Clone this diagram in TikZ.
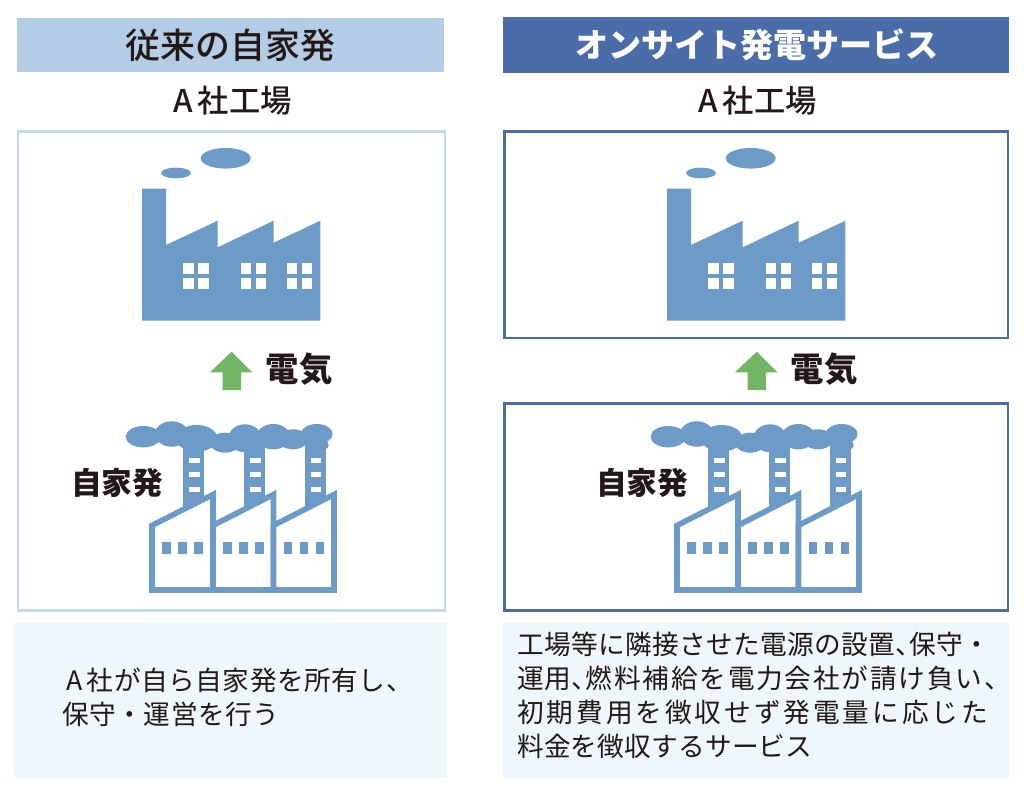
\documentclass[tikz,border=0pt]{standalone}
\usepackage{fontspec}
\usetikzlibrary{positioning}
\setmainfont{Noto Sans CJK JP}
\newfontfamily\medfont{Noto Sans CJK JP Medium}
\definecolor{inkbrown}{HTML}{231815}
\definecolor{plantblue}{HTML}{6C9BC8}
\definecolor{headlight}{HTML}{B4CDE6}
\definecolor{headdark}{HTML}{4A6CA8}
\definecolor{framelight}{HTML}{C5D9E8}
\definecolor{notebg}{HTML}{EDF7FC}
\definecolor{arrowgreen}{HTML}{72B565}
\newcommand{\halfcomma}{\makebox[0.55em][l]{、}}
\newcommand{\tracked}[2]{{\addfontfeature{LetterSpace=#1}#2}}
\tikzset{
  headbar/.style={font=\fontsize{26.2}{30}\selectfont\medfont},
  sitelabel/.style={font=\fontsize{23.5}{26}\selectfont\medfont,text=inkbrown},
  boldlabel/.style={font=\fontsize{#1}{30}\selectfont\bfseries,text=inkbrown},
  notetext/.style={font=\fontsize{20}{25.3}\selectfont,text=inkbrown,align=left,anchor=north west,inner sep=0pt},
  pics/factory/.style={code={
    \fill[plantblue] (142,188.7)--(166,188.7)--(166,245)--(217.7,220.7)--(217.7,247.3)--(273.7,220.7)
      --(273.7,242.7)--(320.3,220.7)--(320.3,320.5)--(142,320.5)--cycle;
    \fill[plantblue] (225.7,158.3) ellipse ({25} and {10.3});
    \fill[plantblue] (176,173) ellipse ({15} and {5.3});
    \foreach \wx in {183.3,240.7,286.7}
      \foreach \dx in {0,15}
        \foreach \wy in {263.3,278.3}
          \fill[white] (\wx+\dx,\wy) rectangle ++(10.5,10.5);
  }},
  pics/selfplant/.style={code={
    % smoke
    \foreach \cx/\cy/\rx/\ry in {143.3/436.7/17.7/10.7,171.7/434/16.7/12.7,196.7/438.3/20.7/13.3,225/442.7/15/10,
        245/438.3/16.7/14,273.3/436.7/16.7/12.7,293/439.3/15/10,316.7/434/16/10,316.7/445/12/6.7}
      \fill[plantblue] (\cx,\cy) ellipse ({\rx} and {\ry});
    % chimneys
    \foreach \sx in {183.3,244.3,305}{
      \fill[plantblue] (\sx,445) rectangle ++(21,65);
      \foreach \sy in {457.7,471.7,486.7}
        \fill[white] (\sx+5.8,\sy) rectangle ++(10.4,5.7);
    }
    % buildings
    \foreach \bx/\ex in {152/213,213/273.5,273.5/334}
      \draw[plantblue,line width=4.2pt,fill=white,miter limit=10]
        (\bx,590)--(\bx,525.4)--(\ex,494.5)--(\ex,590)--cycle;
    \foreach \gx in {162,223.3,283.7}
      \foreach \dx in {0,16,32}
        \fill[plantblue] (\gx+\dx,542.3) rectangle ++(8.7,11.7);
  }},
  pics/powerarrow/.style={code={
    \fill[arrowgreen] (231.7,351.7)--(252.3,372.3)--(241,372.3)--(241,390)--(222.7,390)--(222.7,372.3)--(210,372.3)--cycle;
  }}
}
\begin{document}
\begin{tikzpicture}[x=0.75pt,y=-0.75pt]
  \useasboundingbox (0,0) rectangle (1024,792);
  % left column
  \fill[headlight] (17,18) rectangle (444,72);
  \node[headbar,text=inkbrown] (headold) at (230.5,45) {従来の自家発};
  \node[sitelabel] (siteold) at (232.5,101) {A\,社工場};
  \draw[framelight,line width=1.7pt] (18,131.5) rectangle (445,610.5);
  \pic at (0,0) {factory};
  \pic at (0,0) {powerarrow};
  \node[boldlabel=25] (powerold) at (299,369) {電気};
  \pic at (0,0) {selfplant};
  \node[boldlabel=23] (selfold) at (117,483) {自家発};
  \fill[notebg] (14,623) rectangle (447,778);
  \node[notetext] (noteold) at (62,668) {\hspace{3pt}A\,\tracked{2}{社が自ら自家発を所有し、}\\\tracked{2}{保守・運営を行う}};
  % right column
  \fill[headdark] (503,17) rectangle (1009,73);
  \node[text=white,font=\fontsize{24.8}{30}\selectfont\bfseries] (headnew) at (757,45) {オンサイト発電サービス};
  \node[sitelabel] (sitenew) at (757.5,101) {A\,社工場};
  \draw[headdark,line width=1.7pt] (504.5,131.5) rectangle (1008,338);
  \pic at (525,0) {factory};
  \pic at (525,0) {powerarrow};
  \node[boldlabel=25] (powernew) at (824,369) {電気};
  \draw[headdark,line width=1.7pt] (504.5,403.5) rectangle (1008,610.5);
  \pic at (525,0) {selfplant};
  \node[boldlabel=23] (selfnew) at (642,483) {自家発};
  \fill[notebg] (503,623) rectangle (1009,778);
  \node[notetext] (notenew) at (517,632) {\tracked{1.3}{工場等に隣接させた電源の設置\halfcomma 保守・}\\\tracked{2}{運用\halfcomma}\tracked{6.7}{燃料補給を電力会社が請け負い、}\\\tracked{11}{初期費用を徴収せず発電量に応じた}\\\tracked{0.7}{料金を徴収するサービス}};
\end{tikzpicture}
\end{document}
